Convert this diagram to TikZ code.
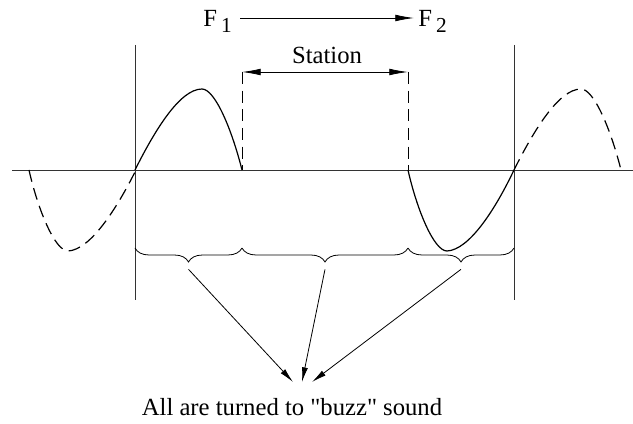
\documentclass[tikz,border=0pt]{standalone}
\usepackage{fontspec}
\setmainfont{Liberation Serif}
\newfontfamily\labelfont{Liberation Serif}
\usepackage{tikz}
\usetikzlibrary{arrows.meta,positioning,decorations.pathreplacing}
\newcommand{\lowsub}[1]{\raisebox{-0.45ex}{\fontsize{16}{18}\selectfont #1}}

\begin{document}
\begin{tikzpicture}[x=0.75pt,y=-0.75pt,>=Latex,
 label/.style={font=\labelfont\fontsize{18.5}{20}\selectfont,inner sep=0pt},
 axisline/.style={line width=0.6pt,black!80},
 wave/.style={line width=0.9pt},
 dashwave/.style={line width=0.9pt,dash pattern=on 9pt off 5pt},
 bigtip/.style={-{Latex[length=14pt,width=5pt]},line width=0.6pt},
 bracedown/.style={decorate,decoration={brace,mirror,amplitude=10.5pt},line width=0.6pt}]
\useasboundingbox (0,0) rectangle (633,424);
% frequency arrow
\node[label,anchor=base west] (f1) at (203,27) {F\,\lowsub{1}};
\node[label,anchor=base west] (f2) at (418,27) {F\,\lowsub{2}};
\coordinate (fa) at (240,18);
\coordinate (fb) at (414,18);
\draw[bigtip] (fa) -- (fb);
% axis and limits
\coordinate (ax0) at (12,170);
\coordinate (ax1) at (633,170);
\draw[axisline] (ax0) -- (ax1);
\draw[axisline] (135,45) coordinate (la) -- (135,300) coordinate (lb);
\draw[axisline] (514,45) coordinate (ra) -- (514,300) coordinate (rb);
% station band
\coordinate (s1) at (242,72);
\coordinate (s2) at (408,72);
\draw[dashwave,line width=0.7pt] (s1) -- (242,170);
\draw[dashwave,line width=0.7pt] (s2) -- (408,170);
\draw[{Latex[length=14pt,width=5pt]}-{Latex[length=14pt,width=5pt]},line width=0.6pt] (s1) -- (s2);
\node[label,anchor=base] (st) at (327,64) {Station};
% waveform
\draw[dashwave] (29,170) .. controls (38,210) and (55,251) .. (68,251)
  .. controls (90,250) and (116,210) .. (136,170);
\draw[wave] (135,170) .. controls (155,130) and (180,89) .. (202,89)
  .. controls (215,89) and (232,130) .. (242,170);
\draw[wave] (408,170) .. controls (417,210) and (434,251) .. (447,251)
  .. controls (469,250) and (495,210) .. (514,170);
\draw[dashwave] (514,170) .. controls (534,130) and (559,89) .. (581,89)
  .. controls (594,89) and (611,130) .. (621,170);
% braces
\draw[bracedown] (135,248) -- (242,248) coordinate[midway,yshift=-16pt] (b1);
\draw[bracedown] (242,248) -- (408,248) coordinate[midway,yshift=-16pt] (b2);
\draw[bracedown] (408,248) -- (514,248) coordinate[midway,yshift=-16pt] (b3);
% result
\node[label,anchor=base] (buzz) at (292,416) {All are turned to "buzz" sound};
\coordinate (t1) at (293,382);
\coordinate (t2) at (302,382);
\coordinate (t3) at (312,382);
\draw[-{Latex[length=11pt,width=4.5pt]},line width=0.6pt] (b1) -- (t1);
\draw[-{Latex[length=11pt,width=4.5pt]},line width=0.6pt] (b2) -- (t2);
\draw[-{Latex[length=11pt,width=4.5pt]},line width=0.6pt] (b3) -- (t3);
\end{tikzpicture}
\end{document}
